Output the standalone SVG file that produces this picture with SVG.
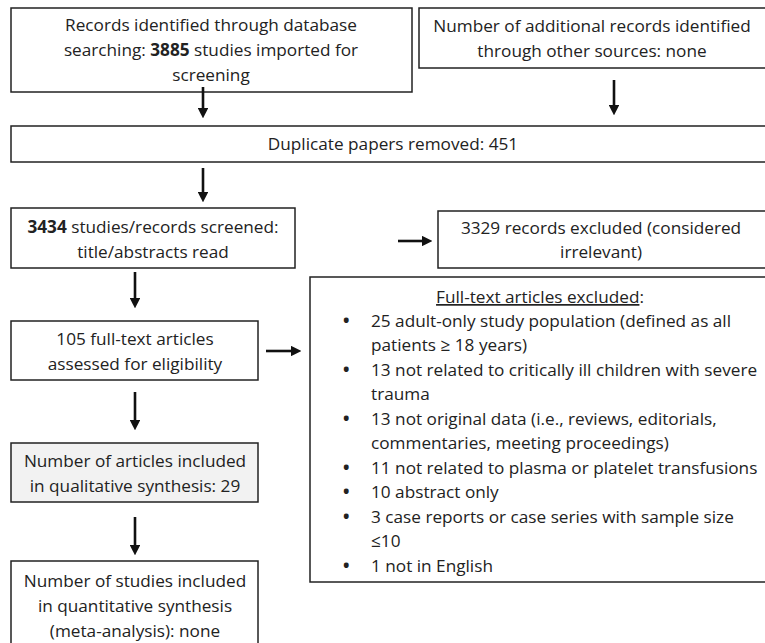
<svg xmlns="http://www.w3.org/2000/svg" width="765" height="643" viewBox="0 0 765 643">
<style>
.box{fill:#fff;stroke:#222;stroke-width:1.5}
.gray{fill:#f2f2f2}
text{font-family:"Open Sans",Lato,sans-serif;font-size:17.2px;fill:#222}
.c{text-anchor:middle}
.b{font-weight:bold}
.conn line{stroke:#111;stroke-width:2.6}
</style>
<defs>
<marker id="ah" markerWidth="4" markerHeight="4" refX="0" refY="2" orient="auto" markerUnits="strokeWidth"><path d="M0,0 L4,2 L0,4 Z" fill="#111"/></marker>
</defs>
<rect width="765" height="643" fill="#fff"/>
<g id="n1"><rect class="box" x="11" y="8" width="401" height="84"/>
<text class="c" x="211" y="31">Records identified through database</text>
<text class="c" x="211" y="56">searching: <tspan font-weight="bold">3885</tspan> studies imported for</text>
<text class="c" x="211" y="81">screening</text></g>
<g id="n2"><rect class="box" x="419" y="8" width="350" height="60"/>
<text class="c" x="592" y="32">Number of additional records identified</text>
<text class="c" x="592" y="57">through other sources: none</text></g>
<g id="n3"><rect class="box" x="11" y="126" width="758" height="36"/>
<text class="c" x="393" y="150">Duplicate papers removed: 451</text></g>
<g id="n4"><rect class="box" x="11" y="208" width="284" height="60"/>
<text class="c" x="153" y="233"><tspan font-weight="bold">3434</tspan> studies/records screened:</text>
<text class="c" x="153" y="258">title/abstracts read</text></g>
<g id="n5"><rect class="box" x="438" y="211" width="331" height="57"/>
<text class="c" x="601" y="234">3329 records excluded (considered</text>
<text class="c" x="601" y="258">irrelevant)</text></g>
<g id="n6"><rect class="box" x="11" y="321" width="247" height="59"/>
<text class="c" x="135" y="345">105 full-text articles</text>
<text class="c" x="135" y="370">assessed for eligibility</text></g>
<g id="n7"><rect class="box" x="310" y="277" width="459" height="305"/>
<text class="c" x="540" y="303"><tspan text-decoration="underline">Full-text articles excluded</tspan>:</text>
<g>
<text class="b" x="343" y="327">•</text><text x="371" y="327">25 adult-only study population (defined as all</text>
<text x="371" y="351">patients ≥ 18 years)</text>
<text class="b" x="343" y="376">•</text><text x="371" y="376">13 not related to critically ill children with severe</text>
<text x="371" y="400">trauma</text>
<text class="b" x="343" y="425">•</text><text x="371" y="425">13 not original data (i.e., reviews, editorials,</text>
<text x="371" y="449">commentaries, meeting proceedings)</text>
<text class="b" x="343" y="474">•</text><text x="371" y="474">11 not related to plasma or platelet transfusions</text>
<text class="b" x="343" y="498">•</text><text x="371" y="498">10 abstract only</text>
<text class="b" x="343" y="523">•</text><text x="371" y="523">3 case reports or case series with sample size</text>
<text x="371" y="547">≤10</text>
<text class="b" x="343" y="572">•</text><text x="371" y="572">1 not in English</text>
</g></g>
<g id="n8"><rect class="box gray" x="11" y="443" width="247" height="59"/>
<text class="c" x="135" y="467">Number of articles included</text>
<text class="c" x="135" y="492">in qualitative synthesis: 29</text></g>
<g id="n9"><rect class="box" x="11" y="561" width="247" height="90"/>
<text class="c" x="135" y="587">Number of studies included</text>
<text class="c" x="135" y="612">in quantitative synthesis</text>
<text class="c" x="135" y="637">(meta-analysis): none</text></g>
<g class="conn">
<line x1="203" y1="87" x2="203" y2="108" marker-end="url(#ah)"/>
<line x1="614" y1="80" x2="614" y2="105" marker-end="url(#ah)"/>
<line x1="203" y1="168" x2="203" y2="192" marker-end="url(#ah)"/>
<line x1="398" y1="241" x2="422" y2="241" marker-end="url(#ah)"/>
<line x1="135" y1="272" x2="135" y2="298" marker-end="url(#ah)"/>
<line x1="266" y1="351" x2="291" y2="351" marker-end="url(#ah)"/>
<line x1="135" y1="392" x2="135" y2="420" marker-end="url(#ah)"/>
<line x1="135" y1="517" x2="135" y2="545" marker-end="url(#ah)"/>
</g>
</svg>
